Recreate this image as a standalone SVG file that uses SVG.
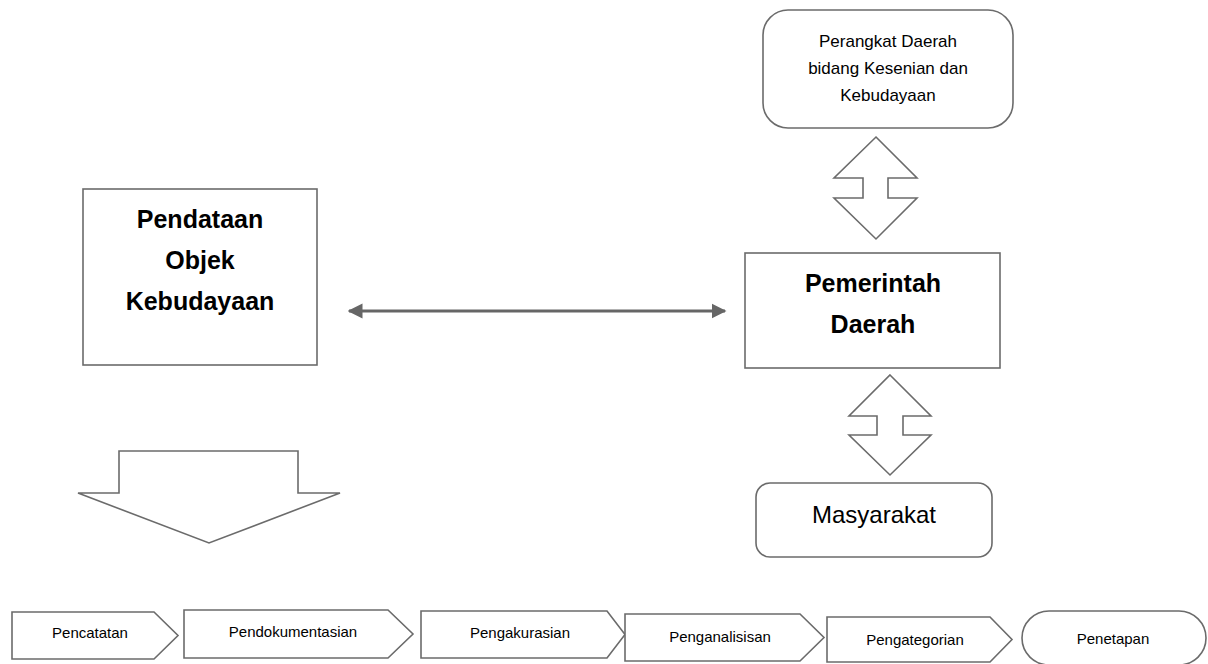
<svg xmlns="http://www.w3.org/2000/svg" width="1208" height="664" viewBox="0 0 1208 664">
<style>
.s{fill:#fff;stroke:#6b6b6b;stroke-width:1.6}
.t{font-family:"Liberation Sans",Arial,sans-serif;fill:#000;text-anchor:middle}
.b{font-weight:bold;font-size:25px}
.sm{font-size:15px}
.tp{font-size:17px}
</style>
<defs>
<marker id="ah" viewBox="0 0 10 10" refX="9" refY="5" markerWidth="5" markerHeight="5.4" orient="auto-start-reverse" markerUnits="strokeWidth">
<path d="M0,0 L10,5 L0,10 Z" fill="#666"/>
</marker>
</defs>
<g id="connectors">
<line x1="349" y1="311" x2="725" y2="311" stroke="#666" stroke-width="3" marker-start="url(#ah)" marker-end="url(#ah)"/>
<path class="s" d="M876,137 L917,178 L888,178 L888,198 L917,198 L876,239 L834,198 L863,198 L863,178 L834,178 Z"/>
<path class="s" d="M890,375 L931,416 L903,416 L903,435 L931,435 L890,475 L849,435 L877,435 L877,416 L849,416 Z"/>
<path class="s" d="M119,451 L298,451 L298,493 L340,493 L209,543 L78,493 L119,493 Z"/>
</g>
<g id="perangkat">
<rect class="s" x="763" y="10" width="250" height="118" rx="25"/>
<text class="t tp" x="888" y="47">Perangkat Daerah</text>
<text class="t tp" x="888" y="74">bidang Kesenian dan</text>
<text class="t tp" x="888" y="101">Kebudayaan</text>
</g>
<g id="pemerintah">
<rect class="s" x="745" y="253" width="255" height="115"/>
<text class="t b" x="873" y="292">Pemerintah</text>
<text class="t b" x="873" y="333">Daerah</text>
</g>
<g id="masyarakat">
<rect class="s" x="756" y="483" width="236" height="74" rx="14"/>
<text class="t" style="font-size:24px" x="874" y="523">Masyarakat</text>
</g>
<g id="pendataan">
<rect class="s" x="83" y="189" width="234" height="176"/>
<text class="t b" x="200" y="228">Pendataan</text>
<text class="t b" x="200" y="269">Objek</text>
<text class="t b" x="200" y="310">Kebudayaan</text>
</g>
<g id="pencatatan">
<path class="s" d="M12,612 L154,612 L178,635.5 L154,659 L12,659 Z"/>
<text class="t sm" x="90" y="638">Pencatatan</text>
</g>
<g id="pendokumentasian">
<path class="s" d="M184,610 L388,610 L413,634 L388,658 L184,658 Z"/>
<text class="t sm" x="293" y="637">Pendokumentasian</text>
</g>
<g id="pengakurasian">
<path class="s" d="M421,611 L607,611 L625,634.5 L607,658 L421,658 Z"/>
<text class="t sm" x="520" y="638">Pengakurasian</text>
</g>
<g id="penganalisisan">
<path class="s" d="M625,614 L800,614 L824,637.5 L800,661 L625,661 Z"/>
<text class="t sm" x="720" y="642">Penganalisisan</text>
</g>
<g id="pengategorian">
<path class="s" d="M827,617 L990,617 L1012,639.5 L990,662 L827,662 Z"/>
<text class="t sm" x="915" y="645">Pengategorian</text>
</g>
<g id="penetapan">
<rect class="s" x="1022" y="611" width="184" height="54" rx="27"/>
<text class="t sm" x="1113" y="644">Penetapan</text>
</g>
</svg>
